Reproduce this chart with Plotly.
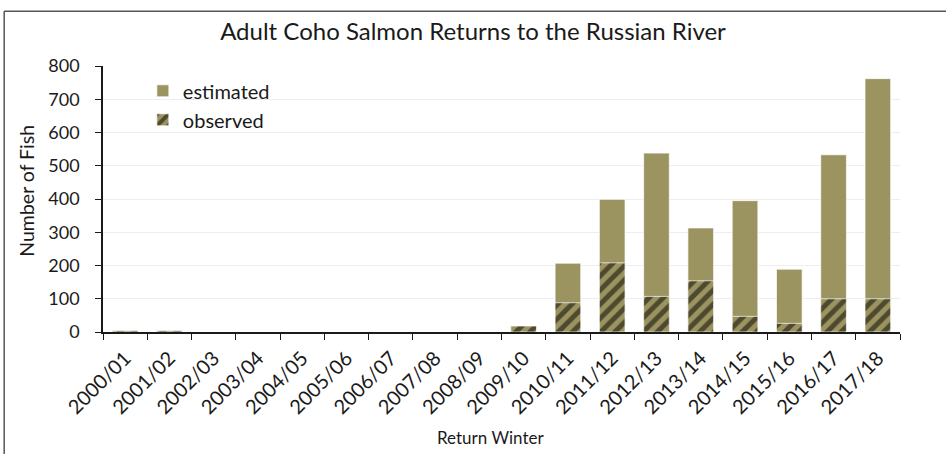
import plotly.graph_objects as go

categories = ["2000/01", "2001/02", "2002/03", "2003/04", "2004/05", "2005/06",
              "2006/07", "2007/08", "2008/09", "2009/10", "2010/11", "2011/12",
              "2012/13", "2013/14", "2014/15", "2015/16", "2016/17", "2017/18"]
estimated = [4, 4, 0, 0, 0, 0, 0, 0, 0, 18, 207, 399, 538, 313, 395, 189, 533, 762]
observed = [4, 4, 0, 0, 0, 0, 0, 0, 0, 18, 88, 208, 107, 154, 47, 26, 100, 100]
y_ticks = [0, 100, 200, 300, 400, 500, 600, 700, 800]

OLIVE = "#9C9460"
FONT = "Lato"
INK = "#1a1a1a"

fig = go.Figure()
fig.add_trace(go.Bar(
    x=categories, y=estimated, name="estimated",
    marker=dict(color=OLIVE, line=dict(color="rgba(255,255,255,0.7)", width=1)),
))
fig.add_trace(go.Bar(
    x=categories, y=observed, name="observed",
    marker=dict(color=OLIVE, line=dict(color="rgba(255,255,255,0.7)", width=1),
                pattern=dict(shape="/", fgcolor="black", bgcolor=OLIVE,
                             size=10, solidity=0.5, fillmode="overlay")),
))

fig.update_layout(
    width=946, height=454,
    barmode="overlay", bargap=0.42,
    paper_bgcolor="white", plot_bgcolor="white",
    margin=dict(l=103, r=46, t=66, b=122, autoexpand=False),
    font=dict(family=FONT, color=INK, size=17),
    title=dict(text="Adult Coho Salmon Returns to the Russian River",
               x=0.5, xref="container", xanchor="center", y=0.93, yanchor="middle",
               font=dict(size=24, family=FONT, color=INK)),
    legend=dict(x=0.05, y=0.98, xanchor="left", yanchor="top",
                bgcolor="rgba(0,0,0,0)", font=dict(size=20, family=FONT),
                itemwidth=30),
    showlegend=True,
    shapes=[
        dict(type="line", xref="paper", yref="paper", x0=-0.124, x1=1.1,
             y0=1.2056, y1=1.2056, line=dict(color="#555555", width=1.5)),
        dict(type="line", xref="paper", yref="paper", x0=-0.124, x1=-0.124,
             y0=1.2056, y1=-0.6, line=dict(color="#555555", width=1.5)),
    ],
    annotations=[
        dict(text="Number of Fish", xref="paper", yref="paper", x=-0.096, y=0.533,
             textangle=-90, showarrow=False, xanchor="center", yanchor="middle",
             font=dict(size=19.5, family=FONT, color=INK)),
        dict(text="Return Winter", xref="paper", yref="paper", x=0.4856, y=-0.396,
             showarrow=False, xanchor="center", yanchor="middle",
             font=dict(size=17, family=FONT, color=INK)),
    ],
)

fig.update_xaxes(
    type="category", tickangle=-45, tickson="boundaries", ticks="outside",
    ticklen=6, tickcolor=INK, showline=True, linecolor=INK,
    linewidth=1.5, showgrid=False, automargin=False, ticklabelstandoff=5,
    tickfont=dict(size=20, family=FONT, color=INK),
)
fig.update_yaxes(
    range=[0, 800], tickvals=y_ticks, ticks="outside", ticklen=6,
    tickcolor=INK, showline=True, linecolor=INK, linewidth=1.5,
    showgrid=True, gridcolor="#EEEEEE", gridwidth=1, zeroline=False,
    automargin=False, ticklabelstandoff=12,
    tickfont=dict(size=18, family=FONT, color=INK),
)

fig.write_html("out.html", config={"displayModeBar": False},
               post_script="document.body.style.margin='0';document.body.style.overflow='hidden';")
